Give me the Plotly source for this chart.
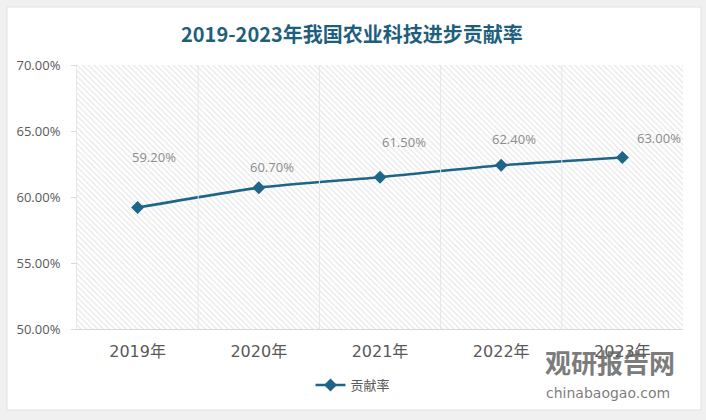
import plotly.graph_objects as go

years = ["2019年", "2020年", "2021年", "2022年", "2023年"]
rates = [59.2, 60.7, 61.5, 62.4, 63.0]
label_texts = ["59.20%", "60.70%", "61.50%", "62.40%", "63.00%"]
label_shift_x = [16, 13, 24, 13, 37]
label_shift_y = [51, 21, 35, 26, 19]
y_ticks = [50, 55, 60, 65, 70]
y_tick_text = ["50.00%", "55.00%", "60.00%", "65.00%", "70.00%"]

W, H = 706, 420
L, R, T, B = 77, 23, 65, 91
pw, ph = W - L - R, H - T - B

def px(x):
    return (x - L) / pw

def py(y):
    return (H - B - y) / ph

line_color = "#1f6587"
fig = go.Figure()

# hatched plot background (main axes, hidden)
fig.add_trace(go.Scatter(
    x=[0, 1, 1, 0, 0], y=[0, 0, 1, 1, 0], xaxis="x", yaxis="y",
    mode="lines", line=dict(width=0), fill="toself", fillcolor="rgba(255,255,255,0)",
    fillpattern=dict(shape="\\", fgcolor="#d0d0d0", bgcolor="white", size=4, solidity=0.3),
    hoverinfo="skip", showlegend=False))

# data on overlaying axes
fig.add_trace(go.Scatter(
    x=years, y=rates, xaxis="x2", yaxis="y2", mode="lines+markers", name="贡献率",
    line=dict(color=line_color, width=2.5, shape="spline", smoothing=0.6),
    marker=dict(symbol="diamond", size=10, color=line_color)))

annotations = []
for yr, v, t, dx, dy in zip(years, rates, label_texts, label_shift_x, label_shift_y):
    annotations.append(dict(x=yr, y=v, xref="x2", yref="y2", text=t, showarrow=False,
                            xshift=dx, yshift=dy,
                            font=dict(family="Open Sans, Noto Sans CJK SC", size=13, color="#8c8c8c")))

annotations.append(dict(x=px(352), y=py(33), xref="paper", yref="paper", text="<b>2019-2023年我国农业科技进步贡献率</b>",
                        showarrow=False, xanchor="center", yanchor="middle",
                        font=dict(family="Noto Sans CJK SC", size=20, color="#1f5f7e")))
# watermark
annotations.append(dict(x=px(610), y=py(361), xref="paper", yref="paper", text="<b>观研报告网</b>",
                        showarrow=False, xanchor="center", yanchor="middle",
                        font=dict(family="Noto Sans CJK SC", size=26, color="rgba(100,100,100,0.85)")))
annotations.append(dict(x=px(608), y=py(393), xref="paper", yref="paper", text="chinabaogao.com",
                        showarrow=False, xanchor="center", yanchor="middle",
                        font=dict(family="DejaVu Sans", size=14, color="rgba(100,100,100,0.85)")))

shapes = [
    dict(type="rect", xref="paper", yref="paper", x0=px(7), x1=px(701), y0=py(410), y1=py(7),
         fillcolor="white", line=dict(color="#e2e2e2", width=1), layer="below"),
]
# vertical gridlines at category boundaries
for i in range(1, 5):
    shapes.append(dict(type="line", xref="x2", yref="paper", x0=i - 0.5, x1=i - 0.5, y0=0, y1=1,
                       line=dict(color="#e6e6e6", width=1), layer="above"))

fig.update_layout(
    width=W, height=H,
    margin=dict(l=L, r=R, t=T, b=B),
    paper_bgcolor="#f0f0f0", plot_bgcolor="rgba(0,0,0,0)",
    shapes=shapes, annotations=annotations,
    xaxis=dict(range=[0, 1], visible=False, fixedrange=True),
    yaxis=dict(range=[0, 1], visible=False, fixedrange=True),
    xaxis2=dict(overlaying="x", type="category", showgrid=False, showline=True, linecolor="#d9d9d9",
                linewidth=1, ticks="", ticklabelstandoff=8,
                tickfont=dict(family="DejaVu Sans, Noto Sans CJK SC", size=16, color="#595959"),
                range=[-0.5, 4.5], fixedrange=True),
    yaxis2=dict(overlaying="y", side="left", range=[50, 70], tickvals=y_ticks, ticktext=y_tick_text,
                showgrid=False, showline=True, linecolor="#e6e6e6", zeroline=False,
                ticks="outside", ticklen=5, tickcolor="#d9d9d9", ticklabelstandoff=8,
                tickfont=dict(family="Open Sans", size=13, color="#595959"), fixedrange=True),
    legend=dict(orientation="h", x=px(353), xanchor="center", y=py(385), yanchor="middle",
                bgcolor="rgba(0,0,0,0)", itemwidth=30,
                font=dict(family="Noto Sans CJK SC", size=13, color="#595959")),
    showlegend=True,
)

fig.write_html("out.html")
